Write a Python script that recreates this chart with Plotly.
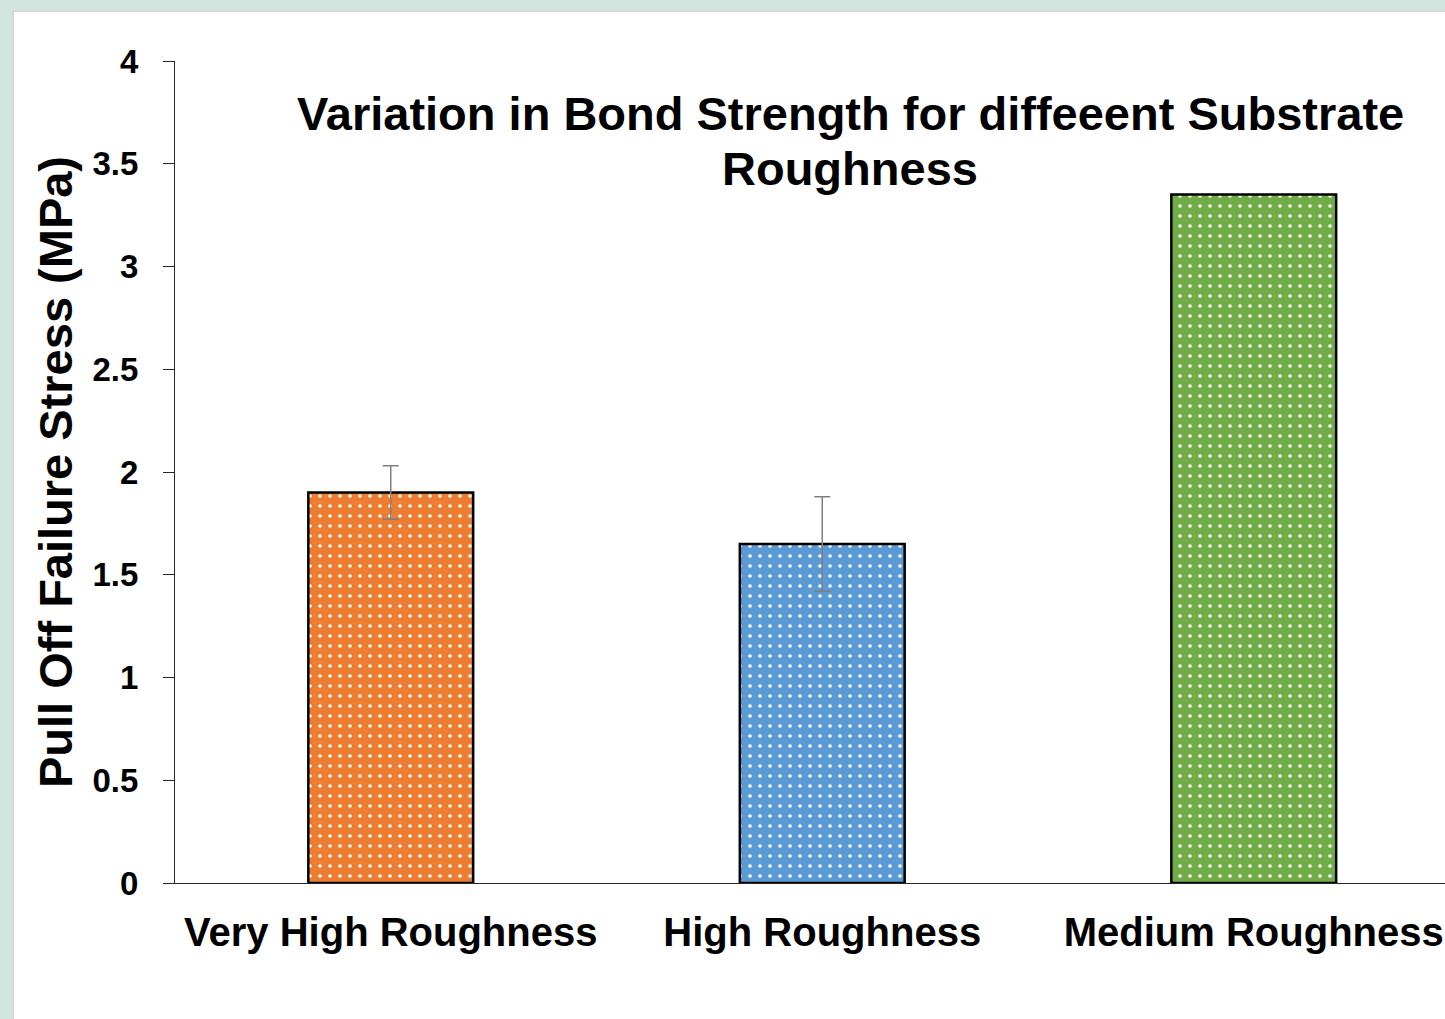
import plotly.graph_objects as go

categories = ["Very High Roughness", "High Roughness", "Medium Roughness"]
values = [1.90, 1.65, 3.35]
errors = [0.13, 0.23, None]
colors = ["#ED7D31", "#5B9BD5", "#70AD47"]
y_ticks = [0, 0.5, 1, 1.5, 2, 2.5, 3, 3.5, 4]
y_ticktext = ["0", "0.5", "1", "1.5", "2", "2.5", "3", "3.5", "4"]
title_lines = ["Variation in Bond Strength for diffeeent Substrate", "Roughness"]
y_title = "Pull Off Failure Stress (MPa)"

W, H = 1445, 1019
L, R, T, B = 175, 0, 61, 136
pw = W - L - R
ph = H - T - B

FONT = "Liberation Sans, Arial, sans-serif"

fig = go.Figure()
for cat, val, err, col in zip(categories, values, errors, colors):
    fig.add_trace(go.Bar(
        x=[cat],
        y=[val],
        width=0.382,
        marker=dict(
            color=col,
            line=dict(color="#000000", width=2.5),
            pattern=dict(shape=".", fgcolor="#ffffff", bgcolor=col, fgopacity=1,
                         size=10, solidity=0.1, fillmode="replace"),
        ),
        error_y=dict(type="data", array=[err], visible=err is not None,
                     color="#7f7f7f", thickness=1.5, width=8),
        showlegend=False,
        hoverinfo="skip",
    ))

def px_to_paper_x(px):
    return (px - L) / pw

def px_to_paper_y(py):
    return (H - B - py) / ph

# white panel with light border over teal background
fig.add_shape(type="rect", xref="paper", yref="paper", layer="below",
              x0=px_to_paper_x(13), x1=px_to_paper_x(1460),
              y0=px_to_paper_y(1040), y1=px_to_paper_y(11),
              fillcolor="#ffffff", line=dict(color="#d9d9d9", width=2))

for line, cy in zip(title_lines, [113, 168]):
    fig.add_annotation(
        text=line,
        xref="paper", yref="paper", x=px_to_paper_x(850), y=px_to_paper_y(cy + 1),
        xanchor="center", yanchor="middle", showarrow=False,
        font=dict(family=FONT, size=47, color="#000000", weight="bold"),
    )
fig.add_annotation(
    text=y_title,
    xref="paper", yref="paper", x=px_to_paper_x(55), y=px_to_paper_y(472),
    xanchor="center", yanchor="middle", textangle=-90, showarrow=False,
    font=dict(family=FONT, size=47, color="#000000", weight="bold"),
)

fig.update_layout(
    width=W, height=H,
    margin=dict(l=L, r=R, t=T, b=B, pad=0),
    paper_bgcolor="#d2e6e0",
    plot_bgcolor="rgba(0,0,0,0)",
    font=dict(family=FONT, color="#000000"),
    barmode="overlay",
)
fig.update_xaxes(
    type="category", categoryorder="array", categoryarray=categories,
    range=[-0.5, -0.5 + pw / 431.5],
    showline=True, linecolor="#262626", linewidth=1.3,
    ticks="", showgrid=False, zeroline=False,
    tickfont=dict(family=FONT, size=40, color="#000000", weight="bold"),
    ticklabelstandoff=14,
)
fig.update_yaxes(
    range=[0, 4], tickvals=y_ticks, ticktext=y_ticktext,
    showline=True, linecolor="#262626", linewidth=1.3,
    ticks="outside", ticklen=11, tickcolor="#262626", tickwidth=1.3,
    showgrid=False, zeroline=False,
    tickfont=dict(family=FONT, size=33, color="#000000", weight="bold"),
    ticklabelstandoff=18,
)

fig.write_html(
    "out.html",
    config={"displayModeBar": False},
    post_script="document.body.style.margin='0';document.body.style.background='#d2e6e0';"
                "document.documentElement.style.overflow='hidden';",
)
